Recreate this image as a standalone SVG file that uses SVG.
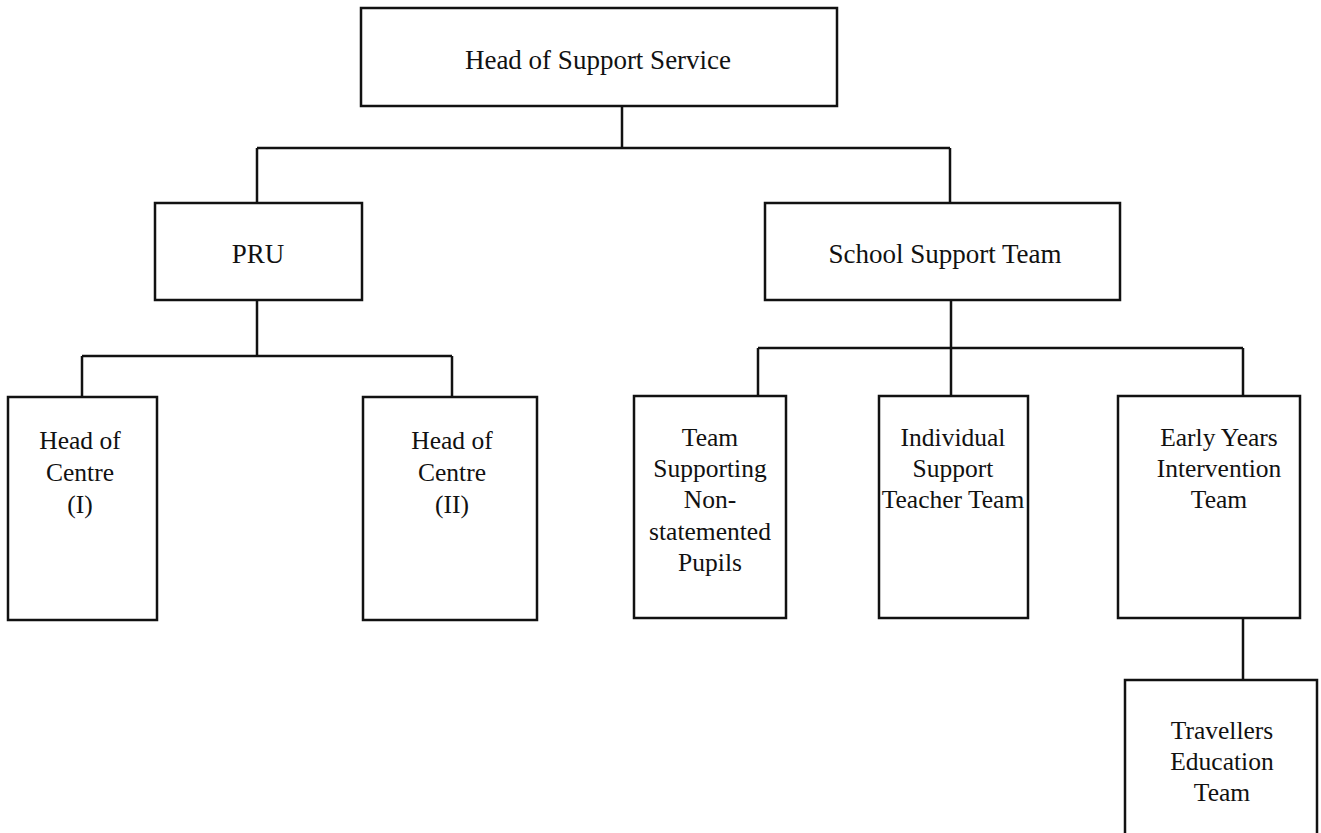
<svg xmlns="http://www.w3.org/2000/svg" width="1321" height="833" viewBox="0 0 1321 833">
<style>
.box{fill:#ffffff;stroke:#111111;stroke-width:2.5}
.con{fill:none;stroke:#111111;stroke-width:2.5}
text{font-family:"Liberation Serif","Times New Roman",serif;font-size:25.5px;fill:#111111;text-anchor:middle}
text.big{font-size:27px}
</style>
<rect width="1321" height="833" fill="#ffffff"/>
<g id="connectors">
<path class="con" d="M622,106 V148 M257,148 H950 M257,148 V203 M950,148 V203"/>
<path class="con" d="M257,300 V356 M82,356 H452 M82,356 V397 M452,356 V397"/>
<path class="con" d="M951,300 V396 M758,348 H1243 M758,348 V396 M1243,348 V396"/>
<path class="con" d="M1243,618 V680"/>
</g>
<g id="head">
<rect class="box" x="361" y="8" width="476" height="98"/>
<text class="big" x="598" y="69">Head of Support Service</text>
</g>
<g id="pru">
<rect class="box" x="155" y="203" width="207" height="97"/>
<text class="big" x="258" y="263">PRU</text>
</g>
<g id="sst">
<rect class="box" x="765" y="203" width="355" height="97"/>
<text class="big" x="945" y="263">School Support Team</text>
</g>
<g id="hoc1">
<rect class="box" x="8" y="397" width="149" height="223"/>
<text x="80" y="449">Head of</text>
<text x="80" y="481">Centre</text>
<text x="80" y="513">(I)</text>
</g>
<g id="hoc2">
<rect class="box" x="363" y="397" width="174" height="223"/>
<text x="452" y="449">Head of</text>
<text x="452" y="481">Centre</text>
<text x="452" y="513">(II)</text>
</g>
<g id="tsnp">
<rect class="box" x="634" y="396" width="152" height="222"/>
<text x="710" y="446">Team</text>
<text x="710" y="477">Supporting</text>
<text x="710" y="508">Non-</text>
<text x="710" y="540">statemented</text>
<text x="710" y="571">Pupils</text>
</g>
<g id="ist">
<rect class="box" x="879" y="396" width="149" height="222"/>
<text x="953" y="446">Individual</text>
<text x="953" y="477">Support</text>
<text x="953" y="508">Teacher Team</text>
</g>
<g id="eyit">
<rect class="box" x="1118" y="396" width="182" height="222"/>
<text x="1219" y="446">Early Years</text>
<text x="1219" y="477">Intervention</text>
<text x="1219" y="508">Team</text>
</g>
<g id="tet">
<rect class="box" x="1125" y="680" width="192" height="165"/>
<text x="1222" y="739">Travellers</text>
<text x="1222" y="770">Education</text>
<text x="1222" y="801">Team</text>
</g>
</svg>
